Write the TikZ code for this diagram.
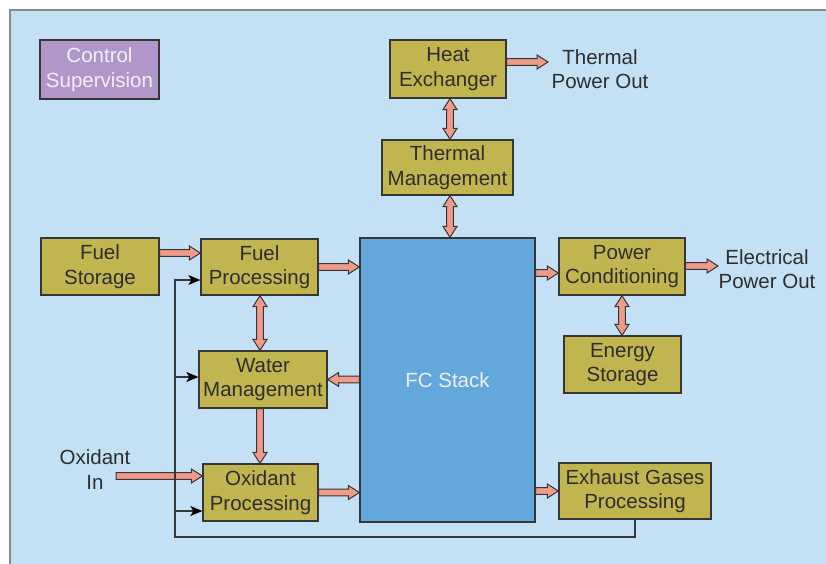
\documentclass[tikz,border=0pt]{standalone}
\usepackage{fontspec}
\setmainfont{Liberation Sans}
\usetikzlibrary{calc,arrows.meta}
\definecolor{bgblue}{HTML}{C3E0F5}
\definecolor{olivebox}{HTML}{C1B54F}
\definecolor{stackblue}{HTML}{62A8DC}
\definecolor{purplebox}{HTML}{B196C9}
\definecolor{pinkarrow}{HTML}{F09A8A}
\definecolor{darkline}{HTML}{363636}
\definecolor{txtdark}{HTML}{2E2E2E}
\definecolor{framegrey}{HTML}{8A8A8A}
\definecolor{lighttxt}{HTML}{F2EEF7}
\begin{document}
\begin{tikzpicture}[x=1pt,y=-1pt,
  box/.style={draw=darkline, line width=1.3pt, fill=olivebox, inner sep=0pt, align=center, text=txtdark, font=\fontsize{20.5}{24.5}\selectfont},
  lbl/.style={inner sep=0pt, align=center, text=txtdark, font=\fontsize{20.5}{24.5}\selectfont},
  fatarrow/.style={draw=darkline, line width=1pt, fill=pinkarrow, line join=miter,
    to path={let \p1=(\tikztostart), \p2=(\tikztotarget), \p3=($(\p2)!11pt!(\p1)$) in
      ($(\p1)!3.4pt!90:(\p2)$) -- ($(\p3)!3.4pt!90:(\p2)$) -- ($(\p3)!7pt!90:(\p2)$) -- (\p2)
      -- ($(\p3)!7pt!-90:(\p2)$) -- ($(\p3)!3.4pt!-90:(\p2)$) -- ($(\p1)!3.4pt!-90:(\p2)$) -- cycle}},
  fatboth/.style={draw=darkline, line width=1pt, fill=pinkarrow, line join=miter,
    to path={let \p1=(\tikztostart), \p2=(\tikztotarget), \p3=($(\p2)!11pt!(\p1)$), \p4=($(\p1)!11pt!(\p2)$) in
      (\p1) -- ($(\p4)!7pt!90:(\p2)$) -- ($(\p4)!3.4pt!90:(\p2)$) -- ($(\p3)!3.4pt!90:(\p2)$) -- ($(\p3)!7pt!90:(\p2)$) -- (\p2)
      -- ($(\p3)!7pt!-90:(\p2)$) -- ($(\p3)!3.4pt!-90:(\p2)$) -- ($(\p4)!3.4pt!-90:(\p2)$) -- ($(\p4)!7pt!-90:(\p2)$) -- cycle}},
  fbline/.style={draw=darkline, line width=1.3pt, -{Stealth[length=12pt,width=10pt,inset=3pt,fill=black,color=black]}}
]
\useasboundingbox (0,0) rectangle (826,564);
\fill[white] (0,0) rectangle (826,564);
\draw[framegrey, line width=1.5pt, fill=bgblue] (10,10) rectangle (840,580);

% nodes
\node[box, fill=purplebox, text=lighttxt, minimum width=119pt, minimum height=59pt] (ctrl) at (99.5,69.5) {Control\\Supervision};
\node[box, minimum width=116pt, minimum height=58pt] (hx) at (448,69) {Heat\\Exchanger};
\node[box, minimum width=131pt, minimum height=55pt] (tm) at (447.5,167.5) {Thermal\\Management};
\node[box, fill=stackblue, text=lighttxt, minimum width=175pt, minimum height=284pt] (fc) at (447.5,380) {FC Stack};
\node[box, minimum width=126pt, minimum height=57pt] (pc) at (622,266.5) {Power\\Conditioning};
\node[box, minimum width=117pt, minimum height=57pt] (es) at (622.5,364.5) {Energy\\Storage};
\node[box, minimum width=152pt, minimum height=56pt] (egp) at (635,491) {Exhaust Gases\\Processing};
\node[box, minimum width=118pt, minimum height=57pt] (fs) at (100,266.5) {Fuel\\Storage};
\node[box, minimum width=117pt, minimum height=56pt] (fp) at (259.5,267) {Fuel\\Processing};
\node[box, minimum width=128pt, minimum height=57pt] (wm) at (263,379.5) {Water\\Management};
\node[box, minimum width=115pt, minimum height=57pt] (op) at (260.5,492.5) {Oxidant\\Processing};

\node[lbl] (thout) at (600,69) {Thermal\\Power Out};
\node[lbl] (elout) at (767,269) {Electrical\\Power Out};
\node[lbl] (oxin) at (95,469.5) {Oxidant\\In};

\coordinate (thend) at (548,62);
\coordinate (elend) at (718,266);
\coordinate (oxstart) at (116,476);

% fat arrows
\draw[fatarrow] (fs.east |- 0,253) to (fp.west |- 0,253);
\draw[fatarrow] (fp.east) to (fc.west |- fp.east);
\draw[fatarrow] (op.east) to (fc.west |- op.east);
\draw[fatarrow] (fc.west |- wm.east) to (wm.east);
\draw[fatboth] (fp.south -| 260,0) to (wm.north -| 260,0);
\draw[fatarrow] (wm.south -| 260,0) to (op.north -| 260,0);
\draw[fatarrow] (oxstart) to (op.west |- oxstart);
\draw[fatarrow] (hx.east |- thend) to (thend);
\draw[fatboth] (hx.south -| 450,0) to (tm.north -| 450,0);
\draw[fatboth] (tm.south -| 450,0) to (fc.north -| 450,0);
\draw[fatarrow] (fc.east |- 0,273) to (pc.west |- 0,273);
\draw[fatarrow] (pc.east |- elend) to (elend);
\draw[fatboth] (pc.south) to (pc.south |- es.north);
\draw[fatarrow] (fc.east |- egp.west) to (egp.west);

% feedback lines
\coordinate (fbl) at (175,537);
\draw[fbline] (egp.south) |- (fbl) -- (fbl |- 0,280) -- (fp.west |- 0,280);
\draw[fbline] (fbl |- 0,377) -- (wm.west |- 0,377);
\draw[fbline] (fbl |- 0,511) -- (op.west |- 0,511);
\end{tikzpicture}
\end{document}
